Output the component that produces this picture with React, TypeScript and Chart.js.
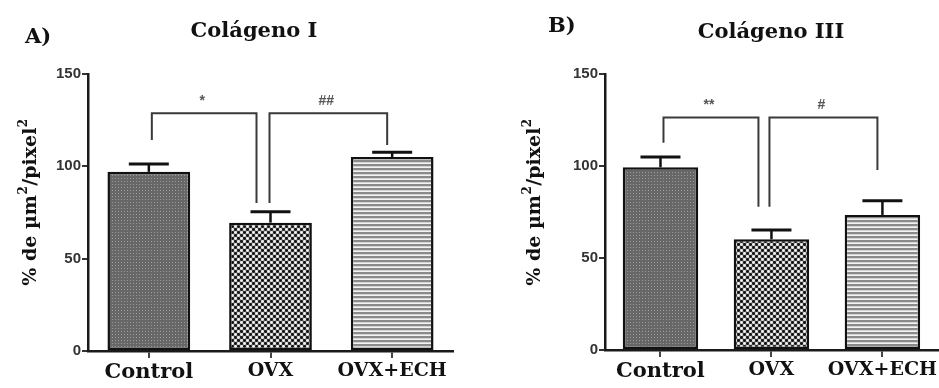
import React, { useEffect, useRef } from "react";
import { Chart, registerables } from "chart.js";
Chart.register(...registerables);

// ---------- data ----------
const categories = ["Control", "OVX", "OVX+ECH"];
const yTickValues = [0, 50, 100, 150];

const colagenoIMeans = [97, 69.5, 105];
const colagenoIErrTop = [101.3, 75.4, 107.6];
const colagenoIPairs = [[0, 1], [1, 2]];
const colagenoILabels = ["*", "##"];
const colagenoILevel = [128.7, 128.7];
const colagenoILegs = [[114.3, 80.1], [80.1, 111.5]];

const colagenoIIIMeans = [99.3, 60.2, 73.4];
const colagenoIIIErrTop = [104.9, 65.2, 81.1];
const colagenoIIIPairs = [[0, 1], [1, 2]];
const colagenoIIILabels = ["**", "#"];
const colagenoIIILevel = [126.3, 126.3];
const colagenoIIILegs = [[112.7, 77.9], [77.9, 97.8]];

// y-axis title pieces: [text, isSuperscript]
const yTitleParts: [string, boolean][] = [
  ["% de µm", false],
  ["2", true],
  ["/pixel", false],
  ["2", true],
];

const SERIF = "'DejaVu Serif', 'Liberation Serif', serif";
const SANS = "'Liberation Sans', Arial, sans-serif";

function makePatterns() {
  const mk = (w: number, h: number, draw: (c: CanvasRenderingContext2D) => void) => {
    const cv = document.createElement("canvas");
    cv.width = w;
    cv.height = h;
    const c = cv.getContext("2d")!;
    draw(c);
    return c.createPattern(cv, "repeat") as CanvasPattern;
  };
  const control = mk(3, 3, (c) => {
    c.fillStyle = "#676767";
    c.fillRect(0, 0, 3, 3);
    c.fillStyle = "#9c9c9c";
    c.fillRect(1, 1, 1, 1);
  });
  const ovx = mk(6, 6, (c) => {
    c.fillStyle = "#7a7a7a";
    c.fillRect(0, 0, 6, 6);
    const dot = (x: number, y: number, col: string) => {
      c.fillStyle = col;
      c.beginPath();
      c.arc(x, y, 1.45, 0, Math.PI * 2);
      c.fill();
    };
    dot(1.5, 1.5, "#101010");
    dot(4.5, 4.5, "#101010");
    dot(4.5, 1.5, "#f2f2f2");
    dot(1.5, 4.5, "#f2f2f2");
  });
  const ech = mk(4, 4, (c) => {
    const cols = ["#8a8a8a", "#8a8a8a", "#d4d4d4", "#f2f2f2"];
    cols.forEach((col, i) => {
      c.fillStyle = col;
      c.fillRect(0, i, 4, 1);
    });
  });
  return [control, ovx, ech];
}

type Panel = {
  means: number[];
  errTop: number[];
  pairs: number[][];
  labels: string[];
  level: number[];
  legs: number[][];
  letter: string;
  title: string;
  letterX: number;
  letterY: number;
  titleX: number;
  titleY: number;
  yTitleX: number;
  yTitleY: number;
  dx: number[][];
  axisWidth: number;
  axisHeight: number;
  padRight: number;
};

const annotPlugin = (p: Panel) => ({
  id: "annot",
  afterDatasetsDraw(chart: any) {
    const ctx = chart.ctx as CanvasRenderingContext2D;
    const x = chart.scales.x;
    const y = chart.scales.y;
    const meta = chart.getDatasetMeta(0);
    ctx.save();
    ctx.strokeStyle = "#111";
    ctx.lineCap = "butt";
    meta.data.forEach((bar: any, i: number) => {
      const top = y.getPixelForValue(p.means[i]);
      const e = y.getPixelForValue(p.errTop[i]);
      ctx.lineWidth = 2.5;
      ctx.beginPath();
      ctx.moveTo(bar.x, top);
      ctx.lineTo(bar.x, e);
      ctx.stroke();
      ctx.lineWidth = 3;
      ctx.beginPath();
      ctx.moveTo(bar.x - 20, e);
      ctx.lineTo(bar.x + 20, e);
      ctx.stroke();
    });
    // brackets
    p.pairs.forEach((pr, k) => {
      const xa = x.getPixelForValue(pr[0]) + p.dx[k][0];
      const xb = x.getPixelForValue(pr[1]) + p.dx[k][1];
      const yl = y.getPixelForValue(p.level[k]);
      ctx.strokeStyle = "#3a3a3a";
      ctx.lineWidth = 2;
      ctx.beginPath();
      ctx.moveTo(xa, y.getPixelForValue(p.legs[k][0]));
      ctx.lineTo(xa, yl);
      ctx.lineTo(xb, yl);
      ctx.lineTo(xb, y.getPixelForValue(p.legs[k][1]));
      ctx.stroke();
      ctx.fillStyle = "#555";
      ctx.font = `bold 14px ${SANS}`;
      ctx.textAlign = "center";
      ctx.textBaseline = "middle";
      ctx.fillText(p.labels[k], (xa + xb) / 2 - 2, yl - 12);
    });
    // titles
    ctx.fillStyle = "#111";
    ctx.textBaseline = "alphabetic";
    ctx.font = `bold 21px ${SERIF}`;
    ctx.textAlign = "left";
    ctx.fillText(p.letter, p.letterX, p.letterY);
    ctx.textAlign = "center";
    ctx.fillText(p.title, p.titleX, p.titleY);
    // y title with superscripts
    ctx.save();
    ctx.translate(p.yTitleX, p.yTitleY);
    ctx.rotate(-Math.PI / 2);
    ctx.textAlign = "left";
    ctx.textBaseline = "alphabetic";
    const mainFont = `bold 19px ${SERIF}`;
    const supFont = `bold 12px ${SERIF}`;
    let total = 0;
    yTitleParts.forEach(([t, sup]) => {
      ctx.font = sup ? supFont : mainFont;
      total += ctx.measureText(t).width + (sup ? 1 : 0);
    });
    let cx = -total / 2;
    yTitleParts.forEach(([t, sup]) => {
      ctx.font = sup ? supFont : mainFont;
      ctx.fillText(t, cx + (sup ? 0.5 : 0), sup ? -2 : 7);
      cx += ctx.measureText(t).width + (sup ? 1 : 0);
    });
    ctx.restore();
    ctx.restore();
  },
});

function PanelChart({ p, width, left }: { p: Panel; width: number; left: number }) {
  const ref = useRef<HTMLCanvasElement>(null);
  useEffect(() => {
    const patterns = makePatterns();
    const chart = new Chart(ref.current!, {
      type: "bar",
      data: {
        labels: categories,
        datasets: [
          {
            data: p.means,
            backgroundColor: patterns as any,
            borderColor: "#111",
            borderWidth: 2.5,
            borderSkipped: false,
            barPercentage: 0.68,
            categoryPercentage: 1,
          },
        ],
      },
      options: {
        responsive: false,
        animation: false,
        layout: { padding: { top: 74, right: p.padRight, left: 0, bottom: 0 } },
        plugins: { legend: { display: false }, tooltip: { enabled: false }, title: { display: false } },
        scales: {
          x: {
            type: "category",
            offset: true,
            grid: {
              drawOnChartArea: false,
              drawTicks: true,
              tickLength: 7,
              offset: false,
              color: "#444",
              lineWidth: 2,
            },
            border: { display: true, color: "#1a1a1a", width: 2.5 },
            ticks: {
              padding: 2,
              color: "#111",
              maxRotation: 0,
              minRotation: 0,
              autoSkip: false,
              font: ((c: any) =>
                c.index === 0
                  ? { family: SERIF, size: 21, weight: "bold" }
                  : { family: SERIF, size: 19, weight: "bold" }) as any,
            },
            afterFit: (s: any) => {
              s.height = p.axisHeight;
            },
          },
          y: {
            min: 0,
            max: 150,
            afterBuildTicks: (s: any) => {
              s.ticks = yTickValues.map((v) => ({ value: v }));
            },
            grid: { drawOnChartArea: false, drawTicks: true, tickLength: 6, color: "#333", lineWidth: 2 },
            border: { display: true, color: "#1a1a1a", width: 2.5 },
            ticks: {
              padding: 1,
              color: "#333",
              font: { family: SANS, size: 15, weight: "bold" },
            },
            afterFit: (s: any) => {
              s.width = p.axisWidth;
            },
          },
        },
      },
      plugins: [annotPlugin(p)],
    });
    return () => chart.destroy();
  }, []);
  return (
    <canvas
      ref={ref}
      width={width}
      height={388}
      style={{ position: "absolute", left, top: 0, width, height: 388 }}
    />
  );
}

const panelA: Panel = {
  means: colagenoIMeans,
  errTop: colagenoIErrTop,
  pairs: colagenoIPairs,
  labels: colagenoILabels,
  level: colagenoILevel,
  legs: colagenoILegs,
  letter: "A)",
  title: "Colágeno I",
  letterX: 25,
  letterY: 43,
  titleX: 254,
  titleY: 37,
  yTitleX: 29,
  yTitleY: 202,
  dx: [[3, -14], [-1, -5]],
  axisWidth: 88,
  axisHeight: 37,
  padRight: 17,
};

const panelB: Panel = {
  means: colagenoIIIMeans,
  errTop: colagenoIIIErrTop,
  pairs: colagenoIIIPairs,
  labels: colagenoIIILabels,
  level: colagenoIIILevel,
  legs: colagenoIIILegs,
  letter: "B)",
  title: "Colágeno III",
  letterX: 78,
  letterY: 32,
  titleX: 301,
  titleY: 38,
  yTitleX: 62.5,
  yTitleY: 202,
  dx: [[3, -13], [-2, -5]],
  axisWidth: 135,
  axisHeight: 38,
  padRight: 0,
};

export default function App() {
  return (
    <div
      style={{
        position: "fixed",
        left: 0,
        top: 0,
        width: 939,
        height: 388,
        background: "#fff",
        overflow: "hidden",
      }}
    >
      <PanelChart p={panelA} width={470} left={0} />
      <PanelChart p={panelB} width={469} left={470} />
    </div>
  );
}
